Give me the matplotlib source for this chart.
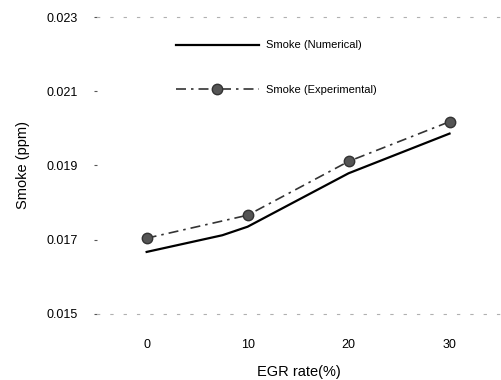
import matplotlib
matplotlib.use("Agg")
import matplotlib.pyplot as plt

# EGR rate (%) vs smoke
egr_num = [0, 7.5, 10, 20, 30]
smoke_num = [0.01667, 0.01712, 0.01735, 0.01879, 0.01986]
egr_exp = [0, 10, 20, 30]
smoke_exp = [0.01704, 0.01766, 0.01911, 0.02018]
xticks = [0, 10, 20, 30]
yticks = [0.015, 0.017, 0.019, 0.021, 0.023]

plt.rcParams["font.family"] = ["Liberation Sans", "DejaVu Sans"]

fig = plt.figure(figsize=(5.01, 3.8), dpi=100)
ax = fig.add_axes([0.194, 0.174, 0.804, 0.781])

ax.plot(egr_num, smoke_num, color="black", lw=1.6, label="Smoke (Numerical)")
ax.plot(egr_exp, smoke_exp, color="#333333", lw=1.2, dashes=(6, 3, 1.5, 3),
        marker="o", ms=7.5, mfc="#555555", mec="#333333",
        label="Smoke (Experimental)")

ax.set_xlim(-4.9, 35)
ax.set_ylim(0.015, 0.023)
ax.set_xticks(xticks)
ax.set_yticks(yticks)
ax.set_xticklabels([str(t) for t in xticks])
ax.set_yticklabels([f"{t:.3f}" for t in yticks])
ax.tick_params(axis="x", length=0, pad=18, labelsize=9)
ax.tick_params(axis="y", length=2, width=0.8, pad=12, labelsize=9, color="#555555")

for side in ["left", "right"]:
    ax.spines[side].set_visible(False)
for side in ["top", "bottom"]:
    ax.spines[side].set_color("#b0b0b0")
    ax.spines[side].set_linestyle((0, (2, 10)))
    ax.spines[side].set_linewidth(0.8)

ax.set_xlabel("EGR rate(%)", fontsize=10.5, labelpad=10)
ax.set_ylabel("Smoke (ppm)", fontsize=10.5, labelpad=12)

ax.legend(loc="upper left", bbox_to_anchor=(0.17, 0.955), frameon=False,
          fontsize=8, handlelength=7.5, handletextpad=0.6, labelspacing=3.1)

fig.savefig("out.png", dpi=100)
